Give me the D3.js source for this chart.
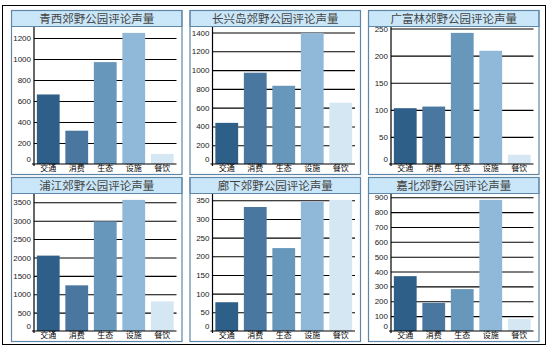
<!DOCTYPE html>
<html>
<head>
<meta charset="utf-8">
<script src="https://cdn.jsdelivr.net/npm/d3@7"></script>
<style>
  body { margin: 0; background: #fff; }
  text { font-family: "Liberation Sans", "Noto Sans CJK SC", sans-serif; }
</style>
</head>
<body>
<div id="chart"></div>
<script>
// Datos: categorías y valores por parque
const categories = ["交通", "消费", "生态", "设施", "餐饮"];
const titles = ["青西郊野公园评论声量", "长兴岛郊野公园评论声量", "广富林郊野公园评论声量",
                "浦江郊野公园评论声量", "廊下郊野公园评论声量", "嘉北郊野公园评论声量"];
const qingxi = [662, 317, 970, 1248, 96];
const changxingdao = [438, 972, 833, 1396, 652];
const guangfulin = [103, 106, 242, 209, 17];
const pujiang = [2050, 1242, 2980, 3565, 805];
const langxia = [77, 332, 222, 346, 351];
const jiabei = [369, 189, 282, 882, 82];
const tickSteps = [200, 200, 50, 500, 50, 100];

const series = [qingxi, changxingdao, guangfulin, pujiang, langxia, jiabei];
const colors = ["#2e5f88", "#4a77a0", "#6897bc", "#8fb8d9", "#d4e7f3"];

const W = 551, H = 351;
const SVG = d3.select("#chart").append("svg")
    .attr("width", W)
    .attr("height", H);

// Marco exterior
SVG.append("rect")
    .attr("x", 2.5).attr("y", 5.5)
    .attr("width", 543).attr("height", 339)
    .attr("fill", "white")
    .attr("stroke", "black");

// Tamaño de cada panel
const panelW = 170.5, panelH = 164;
const stepX = 178.5, stepY = 167;
const left0 = 11, top0 = 10;
const titleH = 16;
const margin = {left: 23, right: 5, top: 17, bottom: 10};

series.forEach((values, i) => {
    const col = i % 3, row = Math.floor(i / 3);
    const px = left0 + col * stepX, py = top0 + row * stepY;
    const g = SVG.append("g").attr("transform", `translate(${px}, ${py})`);

    // Fondo del título
    g.append("rect")
        .attr("x", 0.5).attr("y", 0.5)
        .attr("width", panelW).attr("height", titleH)
        .attr("fill", "#c9e7f9")
        .attr("stroke", "#5f87a8");

    g.append("text")
        .attr("x", panelW / 2 + 0.5)
        .attr("y", 8.8)
        .attr("text-anchor", "middle")
        .attr("dominant-baseline", "central")
        .attr("font-size", "11.5px")
        .attr("fill", "#444")
        .text(titles[i]);

    const plotW = panelW - margin.left - margin.right;
    const baseY = panelH - margin.bottom;
    const maxV = d3.max(values) * 1.045;

    const escalaX = d3.scaleBand()
        .domain(categories)
        .range([margin.left, margin.left + plotW])
        .paddingInner(0.2)
        .paddingOuter(0.1);

    const escalaY = d3.scaleLinear()
        .domain([0, maxV])
        .range([baseY, margin.top]);

    // Grilla y etiquetas del eje Y
    const ticks = d3.range(0, maxV, tickSteps[i]);
    const ejeY = g.append("g")
        .attr("transform", `translate(${margin.left}, 0)`)
        .call(d3.axisLeft(escalaY).tickValues(ticks).tickSize(-plotW).tickPadding(3).tickFormat(d3.format("d")));
    ejeY.select(".domain").remove();
    ejeY.selectAll("line").attr("stroke", "black").attr("stroke-width", 1.1);
    ejeY.selectAll(".tick").filter(d => d === 0).select("line").remove();
    ejeY.selectAll("text")
        .attr("font-size", "8px")
        .attr("fill", "#222")
        .attr("dy", d => d === 0 ? "-0.3em" : "0.32em");

    // Barras
    g.selectAll(".bar")
        .data(values)
        .join("rect")
        .attr("class", "bar")
        .attr("x", (d, j) => escalaX(categories[j]))
        .attr("width", escalaX.bandwidth())
        .attr("y", d => escalaY(d))
        .attr("height", d => baseY - escalaY(d))
        .attr("fill", (d, j) => colors[j]);

    // Ejes
    g.append("line")
        .attr("x1", margin.left - 2).attr("x2", margin.left + plotW)
        .attr("y1", baseY).attr("y2", baseY)
        .attr("stroke", "black").attr("stroke-width", 1.2);
    g.append("line")
        .attr("x1", margin.left).attr("x2", margin.left)
        .attr("y1", margin.top).attr("y2", baseY + 2)
        .attr("stroke", "black").attr("stroke-width", 1.2);

    // Etiquetas de categorías
    const ejeX = g.append("g")
        .attr("transform", `translate(0, ${baseY})`)
        .call(d3.axisBottom(escalaX).tickSize(0).tickPadding(1));
    ejeX.select(".domain").remove();
    ejeX.selectAll("text")
        .attr("font-size", "8px")
        .attr("fill", "#000");

    // Borde del panel
    g.append("rect")
        .attr("x", 0.5).attr("y", 0.5)
        .attr("width", panelW).attr("height", panelH)
        .attr("fill", "none")
        .attr("stroke", "#5f87a8")
        .attr("stroke-width", 1.2);
});
</script>
</body>
</html>
